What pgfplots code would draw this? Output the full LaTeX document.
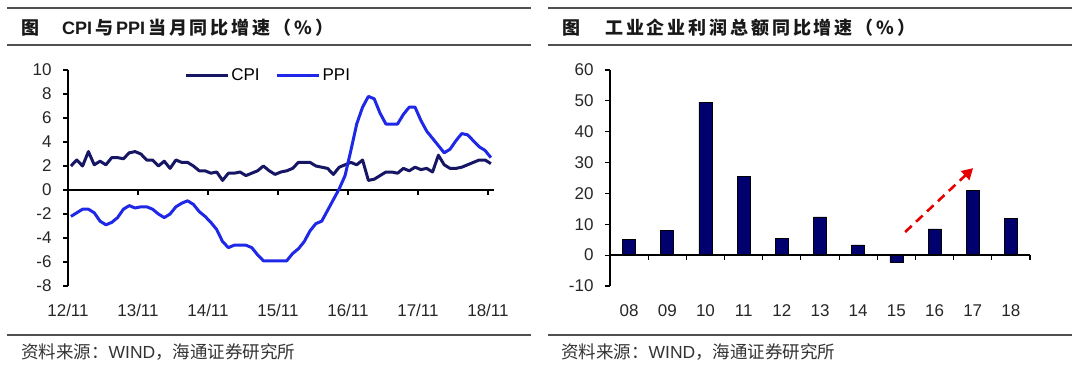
\documentclass[border=0pt]{standalone}
\usepackage{fontspec}
\setmainfont{Liberation Sans}
\newfontfamily\cjk{Noto Sans CJK SC}
\newfontfamily\cjkt[LetterSpace=16]{Noto Sans CJK SC}
\usepackage{pgfplots}
\pgfplotsset{compat=1.18}
\usepackage{pgfplotstable}
\usetikzlibrary{arrows.meta}
\definecolor{cpicol}{RGB}{22,22,100}
\definecolor{ppicol}{RGB}{30,40,230}
\definecolor{barcol}{RGB}{0,0,110}
\definecolor{rulecol}{RGB}{80,80,80}

% monthly data, x = month index from 2012/11 (+0.5)
\pgfplotstableread{
x cpi ppi
0.5 2.0 -2.2
1.5 2.5 -1.9
2.5 2.0 -1.6
3.5 3.2 -1.6
4.5 2.1 -1.9
5.5 2.4 -2.6
6.5 2.1 -2.9
7.5 2.7 -2.7
8.5 2.7 -2.3
9.5 2.6 -1.6
10.5 3.1 -1.3
11.5 3.2 -1.5
12.5 3.0 -1.4
13.5 2.5 -1.4
14.5 2.5 -1.6
15.5 2.0 -2.0
16.5 2.4 -2.3
17.5 1.8 -2.0
18.5 2.5 -1.4
19.5 2.3 -1.1
20.5 2.3 -0.9
21.5 2.0 -1.2
22.5 1.6 -1.8
23.5 1.6 -2.2
24.5 1.4 -2.7
25.5 1.5 -3.3
26.5 0.8 -4.3
27.5 1.4 -4.8
28.5 1.4 -4.6
29.5 1.5 -4.6
30.5 1.2 -4.6
31.5 1.4 -4.8
32.5 1.6 -5.4
33.5 2.0 -5.9
34.5 1.6 -5.9
35.5 1.3 -5.9
36.5 1.5 -5.9
37.5 1.6 -5.9
38.5 1.8 -5.3
39.5 2.3 -4.9
40.5 2.3 -4.3
41.5 2.3 -3.4
42.5 2.0 -2.8
43.5 1.9 -2.6
44.5 1.8 -1.7
45.5 1.3 -0.8
46.5 1.9 0.1
47.5 2.1 1.2
48.5 2.3 3.3
49.5 2.1 5.5
50.5 2.5 6.9
51.5 0.8 7.8
52.5 0.9 7.6
53.5 1.2 6.4
54.5 1.5 5.5
55.5 1.5 5.5
56.5 1.4 5.5
57.5 1.8 6.3
58.5 1.6 6.9
59.5 1.9 6.9
60.5 1.7 5.8
61.5 1.8 4.9
62.5 1.5 4.3
63.5 2.9 3.7
64.5 2.1 3.1
65.5 1.8 3.4
66.5 1.8 4.1
67.5 1.9 4.7
68.5 2.1 4.6
69.5 2.3 4.1
70.5 2.5 3.6
71.5 2.5 3.3
72.5 2.2 2.7
}\cpippi

\pgfplotstableread{
x val
0.5 5.1
1.5 7.9
2.5 49.5
3.5 25.4
4.5 5.3
5.5 12.4
6.5 3.3
7.5 -2.3
8.5 8.5
9.5 21.0
10.5 11.8
}\profit

\pgfplotsset{
  common/.style={
    scale only axis,
    height=216pt,
    axis y line*=left,
    axis x line*=bottom,
    x axis line style={draw=none},
    y axis line style={line width=1.3pt},
    major x tick style={draw=none},
    ytick style={line width=1.1pt, black},
    tick align=outside,
    major tick length=5pt,
    /pgf/number format/assume math mode=true,
    tick label style={font=\fontsize{17}{19}\selectfont, text=black!85},
    yticklabel style={xshift=-8pt},
    xticklabel style={yshift=-10pt},
    clip=false,
  }
}

\begin{document}
\begin{tikzpicture}
\useasboundingbox (0pt,0pt) rectangle (1080pt,365pt);
% header / footer rules
\foreach \xa/\xb in {7/531,548/1072}{
  \draw[line width=1.4pt, rulecol] (\xa pt,357pt) -- (\xb pt,357pt);
  \draw[line width=1.4pt, rulecol] (\xa pt,320pt) -- (\xb pt,320pt);
  \draw[line width=1.4pt, rulecol] (\xa pt,30pt) -- (\xb pt,30pt);
}
\node[anchor=west, inner sep=0pt, font=\fontsize{18}{20}\selectfont\bfseries, text=black!90] at (21pt,337pt)
  {{\cjk\bfseries 图}\hspace{23pt}CPI\,{\cjkt\bfseries 与}\,PPI\,{\cjkt\bfseries 当月同比增速（\%）}};
\node[anchor=west, inner sep=0pt, font=\fontsize{18}{20}\selectfont\cjk\bfseries, text=black!90] at (562pt,337pt)
  {图\hspace{25pt}{\cjkt\bfseries 工业企业利润总额同比增速（\%）}};
\node[anchor=west, inner sep=0pt, font=\fontsize{17.5}{19}\selectfont, text=black!80] at (21pt,13pt)
  {{\cjk 资料来源：}WIND{\cjk ，海通证券研究所}};
\node[anchor=west, inner sep=0pt, font=\fontsize{17.5}{19}\selectfont, text=black!80] at (561pt,13pt)
  {{\cjk 资料来源：}WIND{\cjk ，海通证券研究所}};

% left chart
\begin{axis}[common,
  at={(68pt,79pt)}, anchor=south west,
  width=425.8pt,
  xmin=0, xmax=73, ymin=-8, ymax=10,
  xtick={0,12,24,36,48,60,72},
  xticklabels={12/11,13/11,14/11,15/11,16/11,17/11,18/11},
  ytick={-8,-6,...,10},
  legend columns=2,
  legend style={draw=none, fill=none, at={(0.47,0.975)}, anchor=center,
    font=\fontsize{17}{19}\selectfont, /tikz/every even column/.append style={column sep=14pt},
    inner sep=0pt},
  legend image code/.code={\draw[#1] (0pt,0pt) -- (42pt,0pt);},
]
\draw[line width=1.3pt, black] (axis cs:0,0) -- (axis cs:73,0);
\pgfplotsinvokeforeach{12,24,36,48,60,72}{
  \draw[line width=1.1pt, black] (axis cs:#1,0) -- ++(0pt,-5pt);
}
\addplot[cpicol, line width=3pt, line join=round] table[x=x,y=cpi]{\cpippi};
\addlegendentry{CPI}
\addplot[ppicol, line width=3pt, line join=round] table[x=x,y=ppi]{\cpippi};
\addlegendentry{PPI}
\end{axis}

% right chart
\begin{axis}[common,
  at={(610pt,79pt)}, anchor=south west,
  width=420pt,
  xmin=0, xmax=11, ymin=-10, ymax=60,
  xtick={0.5,1.5,...,10.5},
  xticklabels={08,09,10,11,12,13,14,15,16,17,18},
  ytick={-10,0,...,60},
]
\addplot[ybar, bar width=13pt, fill=barcol, draw=black, line width=0.6pt] table[x=x,y=val]{\profit};
\draw[line width=1.3pt, black] (axis cs:0,0) -- (axis cs:11,0);
\pgfplotsinvokeforeach{1,2,...,11}{
  \draw[line width=1.1pt, black] (axis cs:#1,0) -- ++(0pt,-5pt);
}
\draw[red!90!black, line width=2.6pt, dash pattern=on 9pt off 6pt, -{Triangle[length=11pt,width=12pt]}]
  (axis cs:7.73,7.5) -- (axis cs:9.51,28.2);
\end{axis}
\end{tikzpicture}
\end{document}
